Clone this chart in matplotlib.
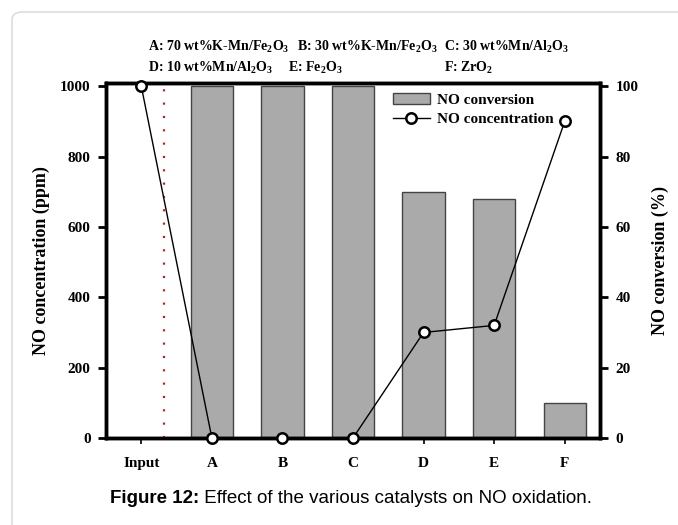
import numpy as np
import matplotlib
matplotlib.use("Agg")
import matplotlib.pyplot as plt
from matplotlib.patches import FancyBboxPatch, Patch
from matplotlib.lines import Line2D

plt.rcParams['font.family'] = ['Liberation Serif', 'DejaVu Serif']
plt.rcParams['font.weight'] = 'bold'
plt.rcParams['mathtext.fontset'] = 'custom'
plt.rcParams['mathtext.rm'] = 'Liberation Serif:bold'
plt.rcParams['mathtext.default'] = 'rm'

# data
categories = ['Input', 'A', 'B', 'C', 'D', 'E', 'F']
no_conc = [1000, 0, 0, 0, 300, 320, 900]          # ppm, left axis
bar_cats = ['A', 'B', 'C', 'D', 'E', 'F']
no_conv = [100, 100, 100, 70, 68, 10]             # %, right axis
catalyst_notes = [
    ('A: 70 wt%K-Mn/Fe$_2$O$_3$', 'B: 30 wt%K-Mn/Fe$_2$O$_3$', 'C: 30 wt%Mn/Al$_2$O$_3$'),
    ('D: 10 wt%Mn/Al$_2$O$_3$', 'E: Fe$_2$O$_3$', 'F: ZrO$_2$'),
]
caption_bold = 'Figure 12:'
caption_text = ' Effect of the various catalysts on NO oxidation.'

fig = plt.figure(figsize=(6.78, 5.25), dpi=100, facecolor='white')

# light rounded frame behind everything
frame = FancyBboxPatch((12/678, -0.2), 1.2, 1.2 - 12/525,
                       boxstyle='round,pad=0,rounding_size=0.015',
                       transform=fig.transFigure, facecolor='white',
                       edgecolor='#dddddd', linewidth=1.2, zorder=-10)
fig.patches.append(frame)

ax1 = fig.add_axes([106/678, 1 - 438/525, (600-106)/678, (438-83)/525])
ax2 = ax1.twinx()
ax1.set_zorder(ax2.get_zorder() + 1)
ax1.patch.set_visible(False)
ax2.patch.set_visible(False)

x = np.arange(len(categories))
xb = np.array([categories.index(c) for c in bar_cats])

ax2.bar(xb, no_conv, width=0.6, color='#aaaaaa', edgecolor='#444444', linewidth=1.0)
ax1.plot(x, no_conc, color='black', linewidth=1.0, marker='o', markersize=7.5,
         markerfacecolor='white', markeredgecolor='black', markeredgewidth=1.8,
         clip_on=False, zorder=5)
ax1.axvline(0.32, color='red', linestyle=(0, (1, 5.4)), linewidth=1.5, ymax=0.99)

ax1.set_xlim(-0.5, 6.5)
ax1.set_ylim(0, 1009)
ax2.set_ylim(0, 100.9)
ax1.set_yticks(range(0, 1001, 200))
ax2.set_yticks(range(0, 101, 20))
ax1.set_xticks(x)
ax1.set_xticklabels(categories)

for ax in (ax1, ax2):
    for s in ax.spines.values():
        s.set_linewidth(2.5)
ax1.tick_params(axis='y', direction='out', length=6, width=2, labelsize=11, pad=5)
ax2.tick_params(axis='y', direction='out', length=6, width=2, labelsize=11, pad=5)
ax1.tick_params(axis='x', direction='out', length=4, width=1.2, labelsize=11, pad=10)

ax1.set_ylabel('NO concentration (ppm)', fontsize=13, fontweight='bold', labelpad=7)
ax2.set_ylabel('NO conversion (%)', fontsize=13, fontweight='bold', labelpad=10)

handles = [Patch(facecolor='#aaaaaa', edgecolor='#444444', linewidth=1.0),
           Line2D([], [], color='black', linewidth=1.0, marker='o', markersize=7.5,
                  markerfacecolor='white', markeredgecolor='black', markeredgewidth=1.8)]
ax1.legend(handles, ['NO conversion', 'NO concentration'], loc='upper left',
           bbox_to_anchor=((393-106)/494, 0.972), frameon=False, fontsize=11,
           handlelength=2.4, handletextpad=0.5, labelspacing=0.4, borderpad=0,
           borderaxespad=0)

xs = [148/678, 297/678, 444/678]
xs2 = [148/678, 288/678, 444/678]
for row, ypix, xrow in [(catalyst_notes[0], 51, xs), (catalyst_notes[1], 72, xs2)]:
    for t, xx in zip(row, xrow):
        fig.text(xx, 1 - ypix/525, t, fontsize=10, fontweight='bold', ha='left', va='baseline')

cap = fig.text(110/678, 1 - 503/525, caption_bold, fontsize=13.5, fontweight='bold',
               family='Liberation Sans', ha='left', va='baseline')
fig.canvas.draw()
bb = cap.get_window_extent()
fig.text(bb.x1/678, 1 - 503/525, caption_text, fontsize=13.5, fontweight='normal',
         family='Liberation Sans', ha='left', va='baseline')

fig.savefig('out.png', dpi=100)
